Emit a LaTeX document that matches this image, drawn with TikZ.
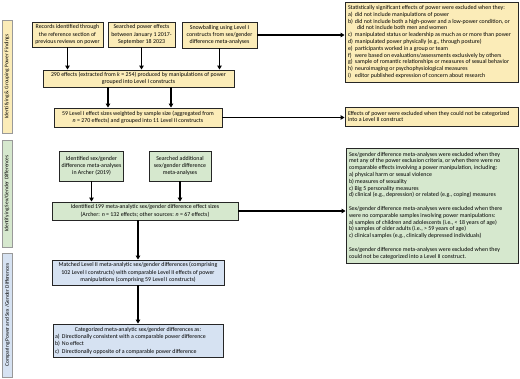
\documentclass[tikz,border=0pt]{standalone}
\usepackage{fontspec}
\setmainfont{Carlito}
\usepackage{tikz}
\usetikzlibrary{arrows.meta, positioning}
\definecolor{powerfill}{RGB}{251,236,184}
\definecolor{sexfill}{RGB}{214,232,206}
\definecolor{comparefill}{RGB}{214,226,242}
\tikzset{
  flowbox/.style={draw=black!85, line width=0.9pt, align=center, inner sep=2pt,
                  font=\fontsize{5.9}{7.3}\selectfont},
  powerbox/.style={flowbox, fill=powerfill},
  sexbox/.style={flowbox, fill=sexfill},
  comparebox/.style={flowbox, fill=comparefill},
  exclbox/.style={flowbox, align=flush left, inner xsep=3pt,
                  font=\fontsize{5.9}{6.8}\selectfont},
  sidelabel/.style={draw=black!40, line width=0.4pt, rotate=90, inner sep=1pt,
                    minimum height=10pt, font=\fontsize{5.4}{6.5}\selectfont},
  flowarrow/.style={-{Triangle[length=4pt, width=4.5pt]}, line width=1.3pt, black}
}
\newcommand{\itemlbl}[1]{\makebox[7pt][l]{#1}}

\begin{document}
\begin{tikzpicture}[x=1pt, y=-1pt]
\useasboundingbox (0,0) rectangle (520,378);

% --- Stage labels (left) ---
\node[sidelabel, fill=powerfill, minimum width=113pt]   (stagepower)   at (7,76.5)  {Identifying \& Grouping Power Findings};
\node[sidelabel, fill=sexfill, minimum width=107pt]     (stagesex)     at (7,193.5) {Identifying Sex/Gender Differences};
\node[sidelabel, fill=comparefill, minimum width=124pt] (stagecompare) at (7.5,315) {Comparing Power and Sex /Gender Differences};

% --- Identifying & grouping power findings ---
\node[powerbox, minimum width=71pt, minimum height=25pt] (records) at (67.5,34.5)
  {Records identified through\\the reference section of\\previous reviews on power};
\node[powerbox, minimum width=67pt, minimum height=25pt] (searched) at (141.5,34.5)
  {Searched power effects\\between January 1 2017-\\September 18 2023};
\node[powerbox, minimum width=75pt, minimum height=26pt] (snowball) at (219.5,35)
  {Snowballing using Level I\\constructs from sex/gender\\difference meta-analyses};
\node[powerbox, minimum width=191pt, minimum height=17pt] (effects) at (138.5,78.5)
  {290 effects (extracted from \textit{k} = 254) produced by manipulations of power\\grouped into Level I constructs};
\node[powerbox, minimum width=168pt, minimum height=19pt] (levelone) at (138,117.5)
  {59 Level I effect sizes weighted by sample size (aggregated from\\\textit{n} = 270 effects) and grouped into 11 Level II constructs};

% --- Power exclusions (right) ---
\node[exclbox, fill=powerfill, text width=167pt, minimum height=80pt] (exclpower) at (431.5,42) {%
  Statistically significant effects of power were excluded when they:\\
  \itemlbl{a)}did not include manipulations of power\\
  \itemlbl{b)}did not include both a high-power and a low-power condition, or\\
  \hspace*{9pt}did not include both men and women\\
  \itemlbl{c)}manipulated status or leadership as much as or more than power\\
  \itemlbl{d)}manipulated power physically (e.g., through posture)\\
  \itemlbl{e)}participants worked in a group or team\\
  \itemlbl{f)}were based on evaluations/assessments exclusively by others\\
  \itemlbl{g)}sample of romantic relationships or measures of sexual behavior\\
  \itemlbl{h)}neuroimaging or psychophysiological measures\\
  \itemlbl{i)}editor published expression of concern about research};
\node[exclbox, fill=powerfill, text width=167pt, minimum height=19pt] (excllevel) at (431.5,116.5)
  {Effects of power were excluded when they could not be categorized\\into a Level II construct};

% --- Identifying sex/gender differences ---
\node[sexbox, minimum width=61pt, minimum height=30pt] (archer) at (91.5,166)
  {Identified sex/gender\\difference meta-analyses\\in Archer (2019)};
\node[sexbox, minimum width=62pt, minimum height=30pt] (additional) at (180,166)
  {Searched additional\\sex/gender difference\\meta-analyses};
\node[sexbox, minimum width=186pt, minimum height=18pt] (sexeffects) at (145,211)
  {Identified 199 meta-analytic sex/gender difference effect sizes\\(Archer: \textit{n} = 132 effects; other sources: \textit{n} = 67 effects)};

% --- Sex/gender exclusions (right) ---
\node[exclbox, fill=sexfill, text width=166pt, minimum height=115pt] (exclsex) at (432,205.5) {%
  Sex/gender difference meta-analyses were excluded when they\\
  met any of the power exclusion criteria, or when there were no\\
  comparable effects involving a power manipulation, including:\\
  a) physical harm or sexual violence\\
  b) measures of sexuality\\
  c) Big 5 personality measures\\
  d) clinical (e.g., depression) or related (e.g., coping) measures\\[6.8pt]
  Sex/gender difference meta-analyses were excluded when there\\
  were no comparable samples involving power manipulations:\\
  a) samples of children and adolescents (i.e., < 18 years of age)\\
  b) samples of older adults (i.e., > 59 years of age)\\
  c) clinical samples (e.g., clinically depressed individuals)\\[6.8pt]
  Sex/gender difference meta-analyses were excluded when they\\
  could not be categorized into a Level II construct.};

% --- Comparing power and sex/gender differences ---
\node[comparebox, minimum width=172pt, minimum height=25pt] (matched) at (138,272.5)
  {Matched Level II meta-analytic sex/gender differences (comprising\\102 Level I constructs) with comparable Level II effects of power\\manipulations (comprising 59 Level I constructs)};
\node[comparebox, align=flush left, text width=166pt, minimum height=33pt] (categorized) at (138,340.5) {%
  \makebox[\linewidth][c]{Categorized meta-analytic sex/gender differences as:}\\
  \itemlbl{a)}Directionally consistent with a comparable power difference\\
  \itemlbl{b)}No effect\\
  \itemlbl{c)}Directionally opposite of a comparable power difference};

% --- Arrows ---
\draw[flowarrow] (records.south)  -- (records.south |- effects.north);
\draw[flowarrow] (searched.south) -- (searched.south |- effects.north);
\draw[flowarrow] (snowball.south) -- (snowball.south |- effects.north);
\draw[flowarrow] ([xshift=-30.5pt]effects.south) -- ([xshift=-30.5pt]effects.south |- levelone.north);
\draw[flowarrow] ([xshift=32.5pt]effects.south)  -- ([xshift=32.5pt]effects.south |- levelone.north);
\draw[flowarrow] (snowball.east) -- (snowball.east -| exclpower.west);
\draw[flowarrow] (levelone.east) -- (levelone.east -| excllevel.west);

\draw[flowarrow] (archer.south)     -- (archer.south |- sexeffects.north);
\draw[flowarrow] (additional.south) -- (additional.south |- sexeffects.north);
\draw[flowarrow] (sexeffects.east)  -- (sexeffects.east -| exclsex.west);
\draw[flowarrow] (sexeffects.south -| matched.north) -- (matched.north);
\draw[flowarrow] (matched.south) -- (categorized.north);

\end{tikzpicture}
\end{document}
